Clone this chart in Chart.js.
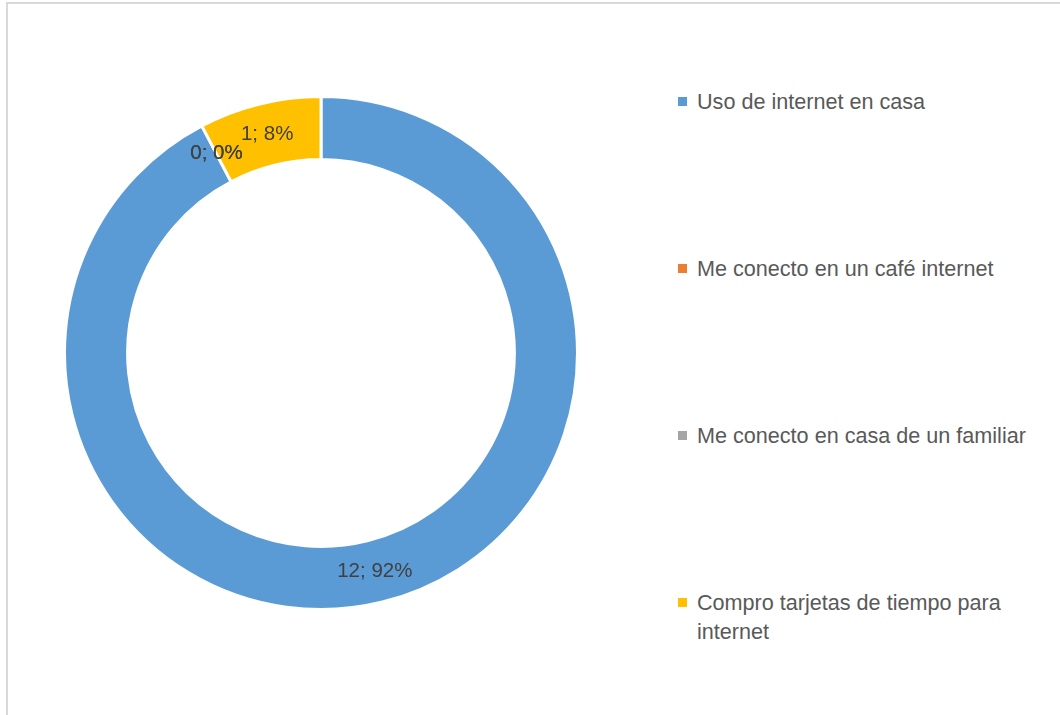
<!DOCTYPE html>
<html>
<head>
<meta charset="utf-8">
<script src="https://cdn.jsdelivr.net/npm/chart.js@4/dist/chart.umd.min.js"></script>
<style>
    body { margin: 0; background: #fff; width: 1060px; height: 715px; overflow: hidden; position: relative; }
    #frame { position: absolute; left: 6px; top: 2px; width: 1200px; height: 900px; border: 2px solid #d9d9d9; }
    #chartWrap { position: absolute; left: 63px; top: 95px; width: 516px; height: 516px; }
    #legend { position: absolute; left: 678px; top: 87px; width: 358px; font-family: "Liberation Sans", Arial, sans-serif; font-size: 21.6px; color: #595959; }
    .item { position: relative; height: 167px; padding-left: 19px; line-height: 29px; }
    .box { position: absolute; left: 0; top: 10px; width: 9px; height: 9px; }
</style>
</head>
<body>
<div id="frame"></div>
<div id="chartWrap"><canvas id="donut" width="516" height="516"></canvas></div>
<div id="legend"></div>
<script>
// Chart data
const categories = ['Uso de internet en casa', 'Me conecto en un café internet', 'Me conecto en casa de un familiar', 'Compro tarjetas de tiempo para internet'];
const counts = [12, 0, 0, 1];
const colors = ['#5B9BD5', '#ED7D31', '#A5A5A5', '#FFC000'];

const total = counts.reduce((a, b) => a + b, 0);

// Draw "value; percent" labels in the middle of each ring segment
const ringLabels = {
    id: 'ringLabels',
    afterDatasetsDraw(chart) {
        const ctx = chart.ctx;
        const meta = chart.getDatasetMeta(0);
        ctx.save();
        ctx.font = '20.5px "Liberation Sans", Arial, sans-serif';
        ctx.fillStyle = '#404040';
        ctx.textAlign = 'center';
        ctx.textBaseline = 'middle';
        meta.data.forEach((arc, i) => {
            const pos = arc.tooltipPosition();
            const pct = Math.round(counts[i] / total * 100);
            ctx.fillText(`${counts[i]}; ${pct}%`, pos.x, pos.y);
        });
        ctx.restore();
    }
};

new Chart(document.getElementById('donut'), {
    type: 'doughnut',
    data: {
        labels: categories,
        datasets: [{
            data: counts,
            backgroundColor: colors,
            borderColor: '#ffffff',
            borderWidth: 3
        }]
    },
    options: {
        responsive: false,
        animation: false,
        cutout: '75.4%',
        plugins: {
            legend: { display: false },
            tooltip: { enabled: false }
        }
    },
    plugins: [ringLabels]
});

// Legend on the right
const legend = document.getElementById('legend');
categories.forEach((name, i) => {
    const item = document.createElement('div');
    item.className = 'item';
    item.innerHTML = `<span class="box" style="background:${colors[i]}"></span>${name}`;
    legend.appendChild(item);
});
</script>
</body>
</html>
